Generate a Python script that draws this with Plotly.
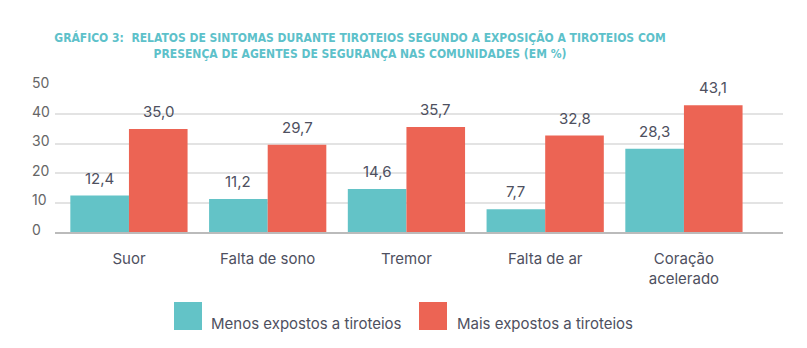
import plotly.graph_objects as go

categories = ["Suor", "Falta de sono", "Tremor", "Falta de ar", "Coração<br>acelerado"]
menos = [12.4, 11.2, 14.6, 7.7, 28.3]
mais = [35.0, 29.7, 35.7, 32.8, 43.1]
series_names = ["Menos expostos a tiroteios", "Mais expostos a tiroteios"]
y_ticks = [0, 10, 20, 30, 40, 50]

TEAL = "#63C3C7"
RED = "#EC6454"
TXT = "#4E5060"
FONT = "Inter"

x = list(range(len(categories)))
fig = go.Figure()
fig.add_bar(x=x, y=menos, name=series_names[0], marker_color=TEAL, marker_line_width=0)
fig.add_bar(x=x, y=mais, name=series_names[1], marker_color=RED, marker_line_width=0)

W, H = 807, 348
L, R, T, B = 55, 24, 85, 116
pw, ph = W - L - R, H - T - B
def px(xp):
    return (xp - L) / pw
def py(yp):
    return (H - B - yp) / ph

annotations = []
off = 0.845 / 4
for i in x:
    for val, dx in ((menos[i], -off), (mais[i], off)):
        annotations.append(dict(x=i + dx, y=val, xref="x", yref="y",
                                text=f"{val:.1f}".replace(".", ","), showarrow=False,
                                yanchor="bottom", yshift=6,
                                font=dict(family=FONT, size=15, color=TXT)))
for t in y_ticks:
    annotations.append(dict(x=px(30), y=t, xref="paper", yref="y", text=str(t), showarrow=False,
                            xanchor="left", yanchor="middle", yshift=3,
                            font=dict(family=FONT, size=14, color="#666666")))

shapes = []
leg = [(174, 209, TEAL, series_names[0]), (419, 455, RED, series_names[1])]
for sx, tx, col, name in leg:
    shapes.append(dict(type="rect", xref="paper", yref="paper", x0=px(sx), x1=px(sx + 28),
                       y0=py(330), y1=py(302), fillcolor=col, line_width=0))
    annotations.append(dict(x=px(tx), y=py(323), xref="paper", yref="paper", text=name,
                            showarrow=False, xanchor="left", yanchor="middle",
                            font=dict(family=FONT, size=15, color=TXT)))

fig.update_layout(
    width=W, height=H,
    margin=dict(l=L, r=R, t=T, b=B),
    paper_bgcolor="white", plot_bgcolor="white",
    barmode="group", bargap=0.155, bargroupgap=0,
    showlegend=False,
    title=dict(text="GRÁFICO 3:  RELATOS DE SINTOMAS DURANTE TIROTEIOS SEGUNDO A EXPOSIÇÃO A TIROTEIOS COM<br>PRESENÇA DE AGENTES DE SEGURANÇA NAS COMUNIDADES (EM %)",
               x=360 / W, xanchor="center", y=1 - 42 / H, yanchor="middle",
               font=dict(family="DejaVu Sans Condensed", size=12, color="#5DC1CA", weight="bold")),
    xaxis=dict(tickvals=x, ticktext=categories, range=[-0.533, 4.714],
               showgrid=False, showline=True, linecolor="#BBBBBB", linewidth=2,
               ticks="", ticklabelstandoff=12,
               tickfont=dict(family=FONT, size=15, color=TXT)),
    yaxis=dict(range=[0, 50], tickvals=y_ticks, showticklabels=False,
               showgrid=True, gridcolor="#E3E3E3", gridwidth=1.5, zeroline=False),
    annotations=annotations, shapes=shapes,
)
fig.write_html("out.html")
